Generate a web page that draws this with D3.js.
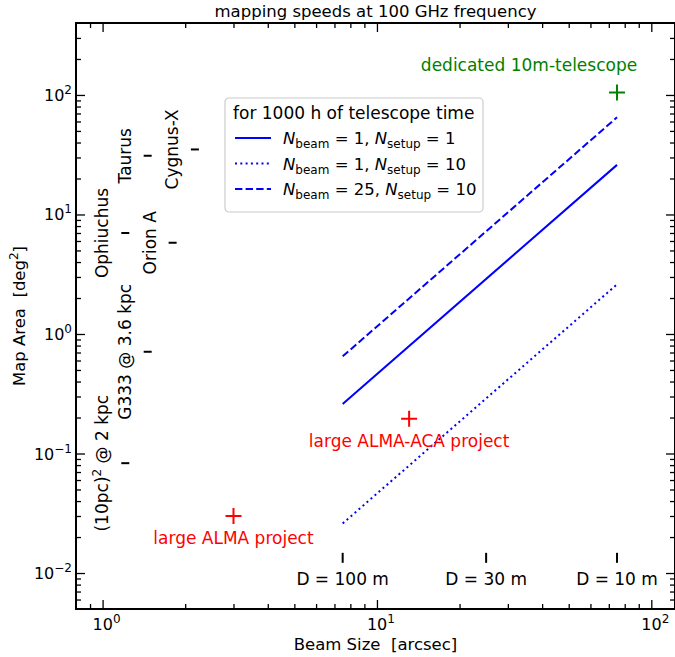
<!DOCTYPE html>
<html>
<head>
<meta charset="utf-8">
<script src="https://cdn.jsdelivr.net/npm/d3@7"></script>
<style>
  body { margin: 0; background: #fff; }
  text { font-family: "DejaVu Sans", sans-serif; white-space: pre; }
</style>
</head>
<body>
<svg id="chart" width="675" height="657"></svg>
<script>
// beam sizes [arcsec] where the mapping-speed lines start and end
var lineBeams = [7.5, 75];
// map areas [deg^2] at those beams
var areaSolid = [0.26, 26];   // Nbeam=1,  Nsetup=1
var areaDotted = [0.026, 2.6];  // Nbeam=1,  Nsetup=10
var areaDashed = [0.65, 65];   // Nbeam=25, Nsetup=10

// reference regions (short horizontal marks with vertical labels)
var regionNames = ["Ophiuchus", "(10pc)\u00b2 @ 2 kpc", "Taurus", "G333 @ 3.6 kpc", "Orion A", "Cygnus-X"];
var regionBeams = [1.21, 1.21, 1.46, 1.46, 1.8, 2.17];
var regionAreas = [7.0, 0.083, 31, 0.71, 5.8, 35];

// telescope diameters
var dishLabels = ["D = 100 m", "D = 30 m", "D = 10 m"];
var dishBeams = [7.5, 25, 75];
var dishMarkArea = 0.0134;

// projects
var projNames = ["large ALMA project", "large ALMA-ACA project", "dedicated 10m-telescope"];
var projBeams = [3, 13.1, 75];
var projAreas = [0.03, 0.195, 105];
var projColors = ["red", "red", "green"];

var xMajor = [1, 10, 100];
var yMajor = [0.01, 0.1, 1, 10, 100];

var svg = d3.select("#chart");
var pLeft = 76, pRight = 675, pTop = 23, pBottom = 609;
var fs = 17;

var x = d3.scaleLog().domain([0.8, 122]).range([pLeft, pRight]);
var y = d3.scaleLog().domain([0.005, 400]).range([pBottom, pTop]);

function minors(lo, hi) {
    var out = [];
    for (var e = Math.floor(Math.log10(lo)); e <= Math.ceil(Math.log10(hi)); e++) {
        for (var k = 2; k <= 9; k++) {
            var v = k * Math.pow(10, e);
            if (v > lo && v < hi) out.push(v);
        }
    }
    return out;
}

// ticks, all four sides pointing inwards
var axes = svg.append("g");
function addAxis(gen, tx, ty, vals, size) {
    axes.append("g")
        .attr("transform", "translate(" + tx + "," + ty + ")")
        .call(gen.tickValues(vals).tickSize(size).tickFormat(""))
        .call(function(g) {
            g.select(".domain").remove();
            g.selectAll("line").attr("stroke", "#000").attr("stroke-width", 1.3);
        });
}
var xm = minors(0.8, 122), ym = minors(0.005, 400);
addAxis(d3.axisBottom(x), 0, pBottom, xMajor, -9);
addAxis(d3.axisBottom(x), 0, pBottom, xm, -5);
addAxis(d3.axisTop(x), 0, pTop, xMajor, -9);
addAxis(d3.axisTop(x), 0, pTop, xm, -5);
addAxis(d3.axisLeft(y), pLeft, 0, yMajor, -9);
addAxis(d3.axisLeft(y), pLeft, 0, ym, -5);
addAxis(d3.axisRight(y), pRight, 0, yMajor, -9);
addAxis(d3.axisRight(y), pRight, 0, ym, -5);

svg.append("rect")
    .attr("x", pLeft).attr("y", pTop)
    .attr("width", pRight - pLeft).attr("height", pBottom - pTop)
    .attr("fill", "none").attr("stroke", "#000").attr("stroke-width", 2);

function powerLabel(sel, v) {
    var e = Math.round(Math.log10(v));
    sel.append("tspan").text("10");
    sel.append("tspan").attr("dy", -7).attr("font-size", 12)
        .text(e < 0 ? "\u2212" + (-e) : e);
}

xMajor.forEach(function(v) {
    var t = svg.append("text").attr("x", x(v) + 4).attr("y", 630)
        .attr("text-anchor", "middle").attr("font-size", 16);
    powerLabel(t, v);
});
yMajor.forEach(function(v) {
    var t = svg.append("text").attr("x", 72).attr("y", y(v) + 6)
        .attr("text-anchor", "end").attr("font-size", 16);
    powerLabel(t, v);
});

// title and axis labels
svg.append("text").attr("x", (pLeft + pRight) / 2).attr("y", 17)
    .attr("text-anchor", "middle").attr("font-size", 16.5)
    .text("mapping speeds at 100 GHz frequency");
svg.append("text").attr("x", (pLeft + pRight) / 2).attr("y", 650)
    .attr("text-anchor", "middle").attr("font-size", 16.5)
    .text("Beam Size  [arcsec]");
var yl = svg.append("text")
    .attr("transform", "translate(25," + ((pTop + pBottom) / 2) + ") rotate(-90)")
    .attr("text-anchor", "middle").attr("font-size", 16.5);
yl.append("tspan").text("Map Area  [deg");
yl.append("tspan").attr("dy", -7).attr("font-size", 12).text("2");
yl.append("tspan").attr("dy", 7).text("]");

// mapping-speed lines
var line = d3.line()
    .x(function(d) { return x(d[0]); })
    .y(function(d) { return y(d[1]); });
var series = [
    {areas: areaSolid, dash: null},
    {areas: areaDotted, dash: "2,3.3"},
    {areas: areaDashed, dash: "7.4,3.2"}
];
series.forEach(function(s) {
    svg.append("path")
        .datum(d3.zip(lineBeams, s.areas))
        .attr("d", line)
        .attr("fill", "none")
        .attr("stroke", "#0000ff")
        .attr("stroke-width", 2)
        .attr("stroke-dasharray", s.dash);
});

// regions
regionNames.forEach(function(name, i) {
    var cx = x(regionBeams[i]), cy = y(regionAreas[i]);
    svg.append("line")
        .attr("x1", cx - 4).attr("x2", cx + 4)
        .attr("y1", cy).attr("y2", cy)
        .attr("stroke", "#000").attr("stroke-width", 2);
    var t = svg.append("text")
        .attr("transform", "translate(" + (cx - 17) + "," + cy + ") rotate(-90)")
        .attr("text-anchor", "middle").attr("font-size", fs);
    if (name.indexOf("\u00b2") >= 0) {
        t.append("tspan").text("(10pc)");
        t.append("tspan").attr("dy", -7).attr("font-size", 12).text("2");
        t.append("tspan").attr("dy", 7).text(" @ 2 kpc");
    } else {
        t.text(name);
    }
});

// telescope diameters
dishLabels.forEach(function(lab, i) {
    var cx = x(dishBeams[i]), cy = y(dishMarkArea);
    svg.append("line")
        .attr("x1", cx).attr("x2", cx)
        .attr("y1", cy - 5).attr("y2", cy + 5)
        .attr("stroke", "#000").attr("stroke-width", 2);
    svg.append("text").attr("x", cx).attr("y", cy + 27)
        .attr("text-anchor", "middle").attr("font-size", fs)
        .text(lab);
});

// projects
var labOff = [[0, 28], [0, 28], [-88, -21]];
projNames.forEach(function(name, i) {
    var cx = x(projBeams[i]), cy = y(projAreas[i]);
    svg.append("path")
        .attr("d", "M" + (cx - 8) + "," + cy + "H" + (cx + 8) + "M" + cx + "," + (cy - 8) + "V" + (cy + 8))
        .attr("stroke", projColors[i]).attr("stroke-width", 2);
    svg.append("text").attr("x", cx + labOff[i][0]).attr("y", cy + labOff[i][1])
        .attr("text-anchor", "middle").attr("font-size", fs)
        .attr("fill", projColors[i])
        .text(name);
});

// legend
var lg = svg.append("g").attr("transform", "translate(225,98)");
lg.append("rect").attr("width", 258).attr("height", 114).attr("rx", 4)
    .attr("fill", "#fff").attr("fill-opacity", 0.8)
    .attr("stroke", "#ccc").attr("stroke-width", 1.2);
lg.append("text").attr("x", 8).attr("y", 21).attr("font-size", fs)
    .text("for 1000 h of telescope time");
var legNb = ["1", "1", "25"], legNs = ["1", "10", "10"];
series.forEach(function(s, i) {
    var ly = 40 + i * 25.5;
    lg.append("line").attr("x1", 10).attr("x2", 46).attr("y1", ly).attr("y2", ly)
        .attr("stroke", "#0000ff").attr("stroke-width", 2)
        .attr("stroke-dasharray", s.dash);
    var t = lg.append("text").attr("x", 58).attr("y", ly + 6).attr("font-size", 16.5);
    t.append("tspan").attr("font-style", "italic").text("N");
    t.append("tspan").attr("dy", 4).attr("font-size", 12).text("beam");
    t.append("tspan").attr("dy", -4).text(" = " + legNb[i] + ", ");
    t.append("tspan").attr("font-style", "italic").text("N");
    t.append("tspan").attr("dy", 4).attr("font-size", 12).text("setup");
    t.append("tspan").attr("dy", -4).text(" = " + legNs[i]);
});
</script>
</body>
</html>
